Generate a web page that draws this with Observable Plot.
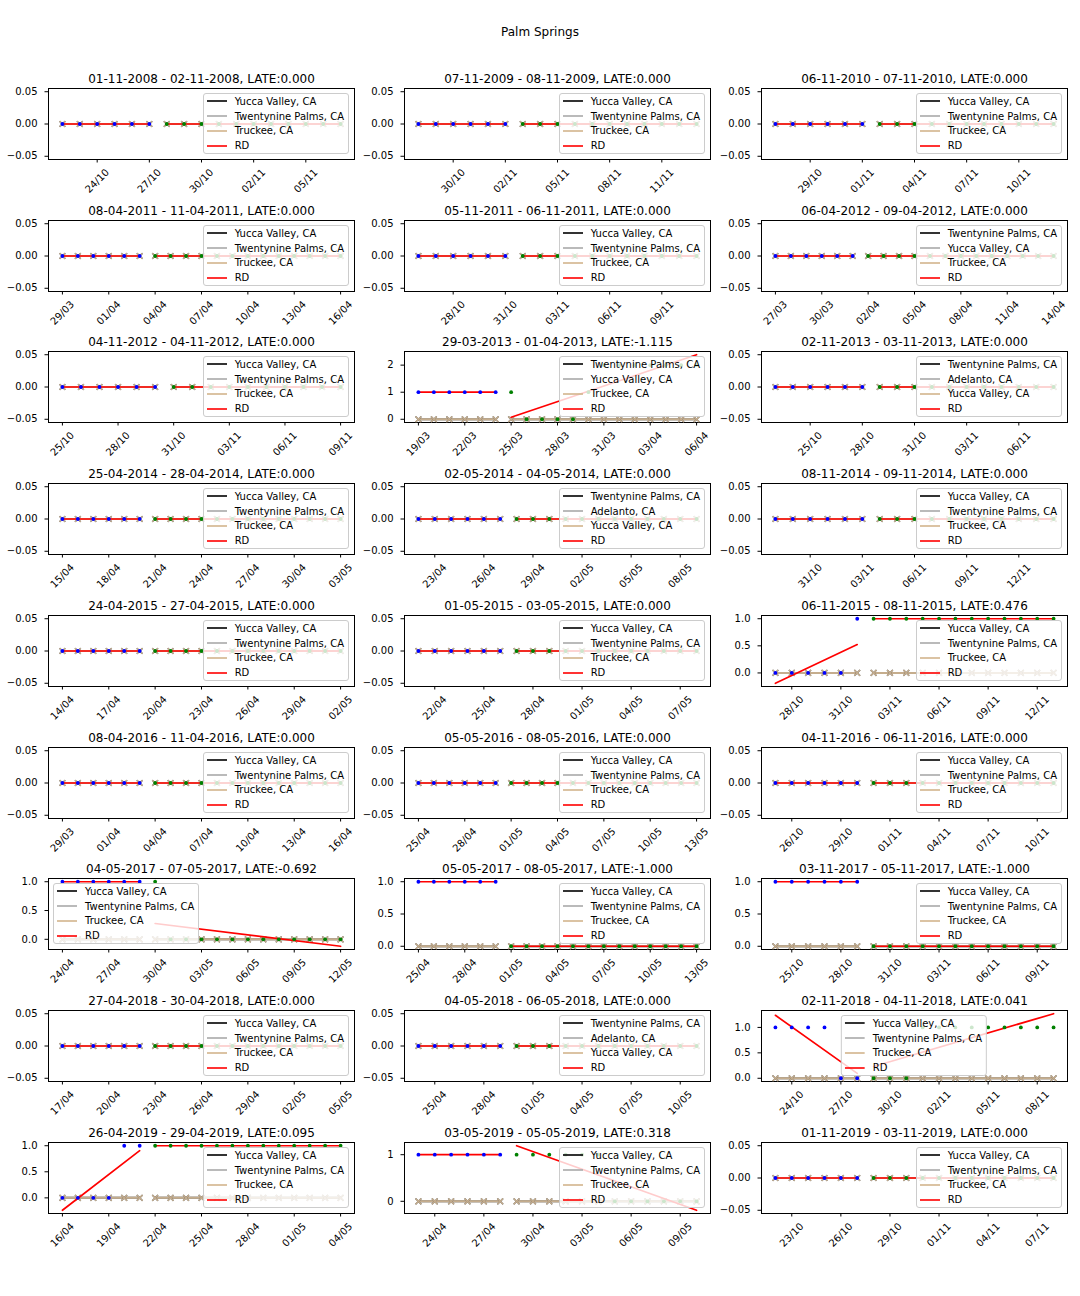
<!DOCTYPE html>
<html><head><meta charset="utf-8">
<script src="https://cdn.jsdelivr.net/npm/d3@7"></script>
<script src="https://cdn.jsdelivr.net/npm/@observablehq/plot@0.6"></script>
<style>
body{margin:0;background:#fff;}
#fig{position:relative;width:1080px;height:1296px;font-family:"DejaVu Sans",sans-serif;background:#fff;overflow:hidden;color:#000;}
.sup{position:absolute;left:0;width:1080px;text-align:center;font-size:12px;top:26px;line-height:12px;}
.panel{position:absolute;}
.legend{position:absolute;background:rgba(255,255,255,0.8);border:1px solid #cccccc;border-radius:3px;padding:0 4px 0 3px;font-size:10px;}
.legend .row{display:flex;align-items:center;height:14.8px;white-space:nowrap;}
.legend svg{margin-right:8px;flex:none;}
</style></head><body><div id="fig"><div class="sup">Palm Springs</div></div>
<script>
const suptitle = "Palm Springs";
const panelTitles = [
  "01-11-2008 - 02-11-2008, LATE:0.000", "07-11-2009 - 08-11-2009, LATE:0.000", "06-11-2010 - 07-11-2010, LATE:0.000",
  "08-04-2011 - 11-04-2011, LATE:0.000", "05-11-2011 - 06-11-2011, LATE:0.000", "06-04-2012 - 09-04-2012, LATE:0.000",
  "04-11-2012 - 04-11-2012, LATE:0.000", "29-03-2013 - 01-04-2013, LATE:-1.115", "02-11-2013 - 03-11-2013, LATE:0.000",
  "25-04-2014 - 28-04-2014, LATE:0.000", "02-05-2014 - 04-05-2014, LATE:0.000", "08-11-2014 - 09-11-2014, LATE:0.000",
  "24-04-2015 - 27-04-2015, LATE:0.000", "01-05-2015 - 03-05-2015, LATE:0.000", "06-11-2015 - 08-11-2015, LATE:0.476",
  "08-04-2016 - 11-04-2016, LATE:0.000", "05-05-2016 - 08-05-2016, LATE:0.000", "04-11-2016 - 06-11-2016, LATE:0.000",
  "04-05-2017 - 07-05-2017, LATE:-0.692", "05-05-2017 - 08-05-2017, LATE:-1.000", "03-11-2017 - 05-11-2017, LATE:-1.000",
  "27-04-2018 - 30-04-2018, LATE:0.000", "04-05-2018 - 06-05-2018, LATE:0.000", "02-11-2018 - 04-11-2018, LATE:0.041",
  "26-04-2019 - 29-04-2019, LATE:0.095", "03-05-2019 - 05-05-2019, LATE:0.318", "01-11-2019 - 03-11-2019, LATE:0.000"
];
// first day shown in each panel (one point per day after it)
const windowStarts = [
  "2008-10-22", "2009-10-28", "2010-10-27",
  "2011-03-29", "2011-10-26", "2012-03-27",
  "2012-10-25", "2013-03-19", "2013-10-23",
  "2014-04-15", "2014-04-22", "2014-10-29",
  "2015-04-14", "2015-04-21", "2015-10-27",
  "2016-03-29", "2016-04-25", "2016-10-25",
  "2017-04-24", "2017-04-25", "2017-10-24",
  "2018-04-17", "2018-04-24", "2018-10-23",
  "2019-04-16", "2019-04-23", "2019-10-22"
];
// daily values of the treated series; the first preDays are "before" (blue), the rest "after" (green)
const preDays = 6;
const pointValues = [
  [0,0,0,0,0,0, 0,0,0,0,0,0,0,0,0,0,0],
  [0,0,0,0,0,0, 0,0,0,0,0,0,0,0,0,0,0],
  [0,0,0,0,0,0, 0,0,0,0,0,0,0,0,0,0,0],
  [0,0,0,0,0,0, 0,0,0,0,0,0,0,0,0,0,0,0,0],
  [0,0,0,0,0,0, 0,0,0,0,0,0,0,0,0,0,0],
  [0,0,0,0,0,0, 0,0,0,0,0,0,0,0,0,0,0,0,0],
  [0,0,0,0,0,0, 0,0,0,0,0,0,0,0,0,0],
  [1,1,1,1,1,1, 1,0,0,0,0,1,2,2,2,2,2,2,2],
  [0,0,0,0,0,0, 0,0,0,0,0,0,0,0,0,0,0],
  [0,0,0,0,0,0, 0,0,0,0,0,0,0,0,0,0,0,0,0],
  [0,0,0,0,0,0, 0,0,0,0,0,0,0,0,0,0,0,0],
  [0,0,0,0,0,0, 0,0,0,0,0,0,0,0,0,0,0],
  [0,0,0,0,0,0, 0,0,0,0,0,0,0,0,0,0,0,0,0],
  [0,0,0,0,0,0, 0,0,0,0,0,0,0,0,0,0,0,0],
  [0,0,0,0,0,1, 1,1,1,1,1,1,1,1,1,1,1,1],
  [0,0,0,0,0,0, 0,0,0,0,0,0,0,0,0,0,0,0,0],
  [0,0,0,0,0,0, 0,0,0,0,0,0,0,0,0,0,0,0,0],
  [0,0,0,0,0,0, 0,0,0,0,0,0,0,0,0,0,0,0],
  [1,1,1,1,1,1, 1,0,0,0,0,0,0,0,0,0,0,0,0],
  [1,1,1,1,1,1, 0,0,0,0,0,0,0,0,0,0,0,0,0],
  [1,1,1,1,1,1, 0,0,0,0,0,0,0,0,0,0,0,0],
  [0,0,0,0,0,0, 0,0,0,0,0,0,0,0,0,0,0,0,0],
  [0,0,0,0,0,0, 0,0,0,0,0,0,0,0,0,0,0,0],
  [1,1,1,1,0,0, 0,0,0,1,1,1,1,1,1,1,1,1],
  [0,0,0,0,1,1, 1,1,1,1,1,1,1,1,1,1,1,1,1],
  [1,1,1,1,1,1, 1,1,1,1,1,1,0,0,0,0,0,0],
  [0,0,0,0,0,0, 0,0,0,0,0,0,0,0,0,0,0,0]
];
// control series (all read at 0 in every panel)
const controlLevel = 0;
const controlColors = ["black", "darkgray", "tan"];
const YV = "Yucca Valley, CA", TP = "Twentynine Palms, CA", TR = "Truckee, CA", AD = "Adelanto, CA";
const legendNames = [
  [YV,TP,TR],[YV,TP,TR],[YV,TP,TR],
  [YV,TP,TR],[YV,TP,TR],[TP,YV,TR],
  [YV,TP,TR],[TP,YV,TR],[TP,AD,YV],
  [YV,TP,TR],[TP,AD,YV],[YV,TP,TR],
  [YV,TP,TR],[YV,TP,TR],[YV,TP,TR],
  [YV,TP,TR],[YV,TP,TR],[YV,TP,TR],
  [YV,TP,TR],[YV,TP,TR],[YV,TP,TR],
  [YV,TP,TR],[TP,AD,YV],[YV,TP,TR],
  [YV,TP,TR],[YV,TP,TR],[YV,TP,TR]
];
const legendLocs = [
  "upper right","upper right","upper right",
  "upper right","upper right","upper right",
  "upper right","upper right","upper right",
  "upper right","upper right","upper right",
  "upper right","upper right","upper right",
  "upper right","upper right","upper right",
  "upper left","upper right","upper right",
  "upper right","upper right","upper center",
  "upper right","upper right","upper right"
];
const xTickLabels = [
  ["24/10","27/10","30/10","02/11","05/11"],
  ["30/10","02/11","05/11","08/11","11/11"],
  ["29/10","01/11","04/11","07/11","10/11"],
  ["29/03","01/04","04/04","07/04","10/04","13/04","16/04"],
  ["28/10","31/10","03/11","06/11","09/11"],
  ["27/03","30/03","02/04","05/04","08/04","11/04","14/04"],
  ["25/10","28/10","31/10","03/11","06/11","09/11"],
  ["19/03","22/03","25/03","28/03","31/03","03/04","06/04"],
  ["25/10","28/10","31/10","03/11","06/11"],
  ["15/04","18/04","21/04","24/04","27/04","30/04","03/05"],
  ["23/04","26/04","29/04","02/05","05/05","08/05"],
  ["31/10","03/11","06/11","09/11","12/11"],
  ["14/04","17/04","20/04","23/04","26/04","29/04","02/05"],
  ["22/04","25/04","28/04","01/05","04/05","07/05"],
  ["28/10","31/10","03/11","06/11","09/11","12/11"],
  ["29/03","01/04","04/04","07/04","10/04","13/04","16/04"],
  ["25/04","28/04","01/05","04/05","07/05","10/05","13/05"],
  ["26/10","29/10","01/11","04/11","07/11","10/11"],
  ["24/04","27/04","30/04","03/05","06/05","09/05","12/05"],
  ["25/04","28/04","01/05","04/05","07/05","10/05","13/05"],
  ["25/10","28/10","31/10","03/11","06/11","09/11"],
  ["17/04","20/04","23/04","26/04","29/04","02/05","05/05"],
  ["25/04","28/04","01/05","04/05","07/05","10/05"],
  ["24/10","27/10","30/10","02/11","05/11","08/11"],
  ["16/04","19/04","22/04","25/04","28/04","01/05","04/05"],
  ["24/04","27/04","30/04","03/05","06/05","09/05"],
  ["23/10","26/10","29/10","01/11","04/11","07/11"]
];
const Z = [-0.05, 0, 0.05], H = [0, 0.5, 1];
const yTickValues = [
  Z,Z,Z, Z,Z,Z, Z,[0,1,2],Z,
  Z,Z,Z, Z,Z,H, Z,Z,Z,
  H,H,H, Z,Z,H, H,[0,1],Z
];

// ---------- layout ----------
const colLeft = [48, 404, 761];
const axesW = 306, axesH = 71;
const rowTop0 = 88, rowPitch = 131.7;
const ml = 60, mr = 12, mt = 24, mb = 50;
const parseDay = d3.utcParse("%Y-%m-%d");
const fig = document.getElementById("fig");

function fitEnds(vals) {
  const n = vals.length;
  const mx = (n - 1) / 2, my = d3.mean(vals);
  let sxy = 0, sxx = 0;
  vals.forEach((v, j) => { sxy += (j - mx) * (v - my); sxx += (j - mx) ** 2; });
  const b = sxx ? sxy / sxx : 0;
  const a = my - b * mx;
  return [a, a + b * (n - 1)];
}

panelTitles.forEach((title, i) => {
  const r = Math.floor(i / 3), c = i % 3;
  const axL = colLeft[c], axT = Math.round(rowTop0 + r * rowPitch);
  const start = parseDay(windowStarts[i]);
  const year = start.getUTCFullYear();
  const vals = pointValues[i];
  const rows = vals.map((v, j) => ({date: d3.utcDay.offset(start, j), value: v, seg: j < preDays ? "pre" : "post"}));
  const ctrl = controlColors.map((col, k) => rows.map(d => ({date: d.date, value: controlLevel, seg: d.seg, k})));
  // domain like matplotlib autoscale (5% margins)
  const pre = vals.slice(0, preDays), post = vals.slice(preDays);
  const ext = d3.extent([...vals, controlLevel, ...fitEnds(pre), ...fitEnds(post)]);
  let yDomain;
  if (ext[1] - ext[0] < 1e-9) yDomain = [ext[0] - 0.055, ext[1] + 0.055];
  else { const m = (ext[1] - ext[0]) * 0.05; yDomain = [ext[0] - m, ext[1] + m]; }
  const t0 = rows[0].date, t1 = rows[rows.length - 1].date;
  const span = t1 - t0;
  const xDomain = [new Date(+t0 - span * 0.05), new Date(+t1 + span * 0.05)];
  const xTicks = xTickLabels[i].map(s => { const [d, m] = s.split("/").map(Number); return new Date(Date.UTC(year, m - 1, d)); });
  const yTicks = yTickValues[i];
  const step = yTicks[1] - yTicks[0];
  const yFmt = d3.format("." + d3.precisionFixed(step) + "f");

  const marks = [Plot.frame({stroke: "black", strokeWidth: 1})];
  ctrl.forEach((data, k) => {
    marks.push(Plot.line(data, {x: "date", y: "value", z: "seg", stroke: controlColors[k], strokeOpacity: 0.8, strokeWidth: 2}));
  });
  ctrl.forEach((data, k) => {
    marks.push(Plot.dot(data, {x: "date", y: "value", symbol: "times", r: 2.7, stroke: controlColors[k], strokeOpacity: 0.8, strokeWidth: 1.4}));
  });
  marks.push(Plot.linearRegressionY(rows, {x: "date", y: "value", z: "seg", stroke: "red", ci: 0, strokeWidth: 1.7}));
  marks.push(Plot.dot(rows, {x: "date", y: "value", r: 1.9, fill: d => d.seg === "pre" ? "blue" : "green", stroke: null}));
  marks.push(Plot.axisY({ticks: yTicks, tickSize: 3.5, tickPadding: 7.5, tickFormat: yFmt, fontSize: 10, label: null}));
  marks.push(Plot.axisX({ticks: xTicks, tickSize: 3.5, tickRotate: -45, textAnchor: "middle", lineAnchor: "middle", tickPadding: 18, tickFormat: d3.utcFormat("%d/%m"), fontSize: 10, label: null}));
  marks.push(Plot.text([title], {frameAnchor: "top", lineAnchor: "bottom", dy: -5.5, fontSize: 12, fill: "black"}));

  const svg = Plot.plot({
    width: axesW + ml + mr, height: axesH + mt + mb,
    marginLeft: ml, marginRight: mr, marginTop: mt, marginBottom: mb,
    style: {fontFamily: "DejaVu Sans", fontSize: "10px", background: "transparent", overflow: "visible", color: "black"},
    x: {type: "utc", domain: xDomain},
    y: {domain: yDomain},
    marks
  });
  const div = document.createElement("div");
  div.className = "panel";
  div.style.left = (axL - ml) + "px";
  div.style.top = (axT - mt) + "px";
  div.appendChild(svg);
  fig.appendChild(div);

  // legend (matplotlib-style, semi-transparent, inside the axes)
  const lg = document.createElement("div");
  lg.className = "legend";
  const entries = legendNames[i].map((n, k) => ({label: n, color: controlColors[k]})).concat([{label: "RD", color: "red"}]);
  entries.forEach(e => {
    const row = document.createElement("div");
    row.className = "row";
    row.innerHTML = `<svg width="20" height="4"><line x1="0" y1="2" x2="20" y2="2" stroke="${e.color}" stroke-opacity="0.8" stroke-width="2"/></svg><span>${e.label}</span>`;
    lg.appendChild(row);
  });
  lg.style.top = (axT + 5) + "px";
  const loc = legendLocs[i];
  if (loc === "upper right") lg.style.right = (1080 - (axL + axesW - 5)) + "px";
  else if (loc === "upper left") lg.style.left = (axL + 5) + "px";
  else { lg.style.left = (axL + axesW / 2) + "px"; lg.style.transform = "translateX(-50%)"; }
  fig.appendChild(lg);
});
</script></body></html>
